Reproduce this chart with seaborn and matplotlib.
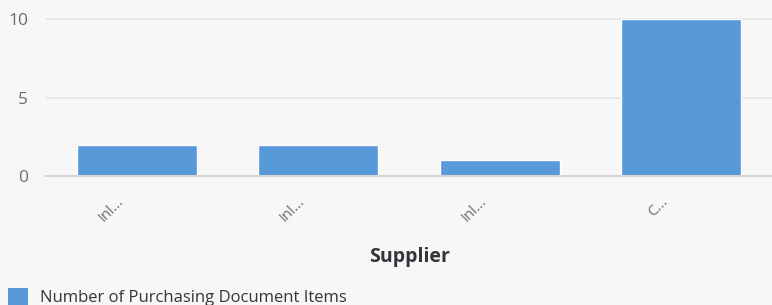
import matplotlib.pyplot as plt
import pandas as pd
import seaborn as sns
from matplotlib.patches import Patch
from matplotlib.transforms import ScaledTranslation

# Data
supplier_ids = ['S1', 'S2', 'S3', 'S4']
supplier_labels = ['Inl...', 'Inl...', 'Inl...', 'C...']
item_counts = [2, 2, 1, 10]
series_name = 'Number of Purchasing Document Items'

df = pd.DataFrame({'supplier': supplier_ids, 'items': item_counts})

bg = '#f7f7f7'
bar_color = '#5899da'
text_gray = '#6a6d70'

sns.set_theme(style='white')
plt.rcParams['font.family'] = ['Open Sans', 'DejaVu Sans']

fig = plt.figure(figsize=(7.72, 3.05), dpi=100, facecolor=bg)
ax = fig.add_axes([46 / 772, 1 - 176 / 305, 726 / 772, 166 / 305])
ax.set_facecolor(bg)

sns.barplot(data=df, x='supplier', y='items', color=bar_color, width=0.66,
            saturation=1, ax=ax)

ax.set_xlim(-0.5, 3.5)
ax.set_ylim(0, 10.6)
ax.set_yticks([0, 5, 10])
ax.yaxis.grid(True, color='#e4e4e4', linewidth=1.2)
ax.set_axisbelow(True)
for side in ['top', 'right', 'left']:
    ax.spines[side].set_visible(False)
ax.spines['bottom'].set_color('#d5d5d5')
ax.spines['bottom'].set_linewidth(1.5)

ax.set_xticks(range(len(supplier_labels)))
ax.set_xticklabels(supplier_labels, rotation=45, ha='right', rotation_mode='anchor',
                   color=text_gray, fontsize=10.5)
ax.tick_params(axis='x', length=0, pad=13)
shift = ScaledTranslation(-0.21, 0, fig.dpi_scale_trans)
for lbl in ax.get_xticklabels():
    lbl.set_transform(lbl.get_transform() + shift)
ax.tick_params(axis='y', length=0, pad=13, labelsize=12.5, labelcolor=text_gray)

ax.set_ylabel('')
ax.set_xlabel('Supplier', fontsize=14, fontweight='bold', color='#32363a', labelpad=16)

handle = Patch(facecolor=bar_color, edgecolor='none')
fig.legend([handle], [series_name], loc='lower left', bbox_to_anchor=(0.0, -0.03),
           frameon=False, fontsize=12, handlelength=1.2, handleheight=1.2,
           handletextpad=0.7, borderaxespad=0.1, labelcolor='#32363a')

fig.savefig('out.png', dpi=100, facecolor=bg)
